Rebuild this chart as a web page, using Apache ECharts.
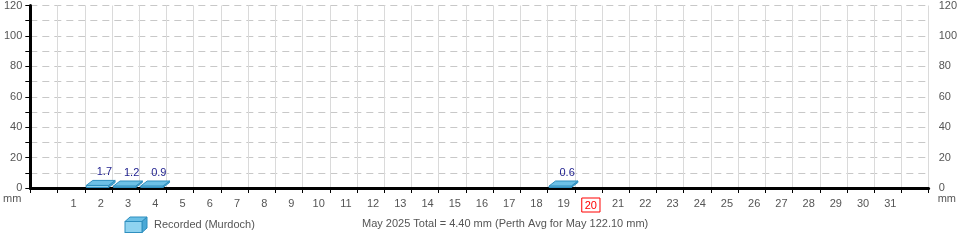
<!DOCTYPE html>
<html>
<head>
<meta charset="utf-8">
<script src="https://cdn.jsdelivr.net/npm/echarts@6/dist/echarts.min.js"></script>
<style>html,body{margin:0;padding:0;background:#fff;}#c{width:960px;height:240px;}</style>
</head>
<body>
<div id="c"></div>
<script>
// ---- data ----
var dayLabels = ['', '1','2','3','4','5','6','7','8','9','10','11','12','13','14','15','16','17','18','19','20','21','22','23','24','25','26','27','28','29','30','31', ''];
var rainDays = ['2', '3', '4', '19'];
var rainValues = [1.7, 1.2, 0.9, 0.6];
var highlightDay = '20';
var seriesName = 'Recorded (Murdoch)';
var footnote = 'May 2025 Total = 4.40 mm (Perth Avg for May 122.10 mm)';
var yUnit = 'mm';

var font = '"Liberation Sans", Arial, sans-serif';
var cubeSvg = '<svg xmlns="http://www.w3.org/2000/svg" width="24" height="17" viewBox="0 0 24 17">' +
  '<polygon points="1,5.5 6,1 23,1 18,5.5" fill="#6cc0e6" stroke="#2f8fbf" stroke-width="1"/>' +
  '<polygon points="18,5.5 23,1 23,12 18,16.5" fill="#4aa8d6" stroke="#2f8fbf" stroke-width="1"/>' +
  '<rect x="1" y="5.5" width="17" height="11" fill="#8fd3f0" stroke="#2f8fbf" stroke-width="1"/>' +
  '</svg>';
var cubeIcon = 'image://data:image/svg+xml;charset=utf-8,' + encodeURIComponent(cubeSvg);

var seriesData = rainDays.map(function (d, i) { return [d, rainValues[i]]; });

var chart = echarts.init(document.getElementById('c'), null, {renderer: 'canvas'});
chart.setOption({
  animation: false,
  backgroundColor: '#fff',
  textStyle: {fontFamily: font},
  grid: {left: 30, right: 30, top: 5, bottom: 52, containLabel: false},
  legend: {
    show: true,
    left: 119, top: 211,
    itemWidth: 24, itemHeight: 17, itemGap: 10,
    icon: cubeIcon,
    data: [{name: seriesName, icon: cubeIcon}],
    textStyle: {color: '#555', fontSize: 11, fontFamily: font, padding: [0,0,0,1]}
  },
  xAxis: {
    type: 'category',
    data: dayLabels,
    boundaryGap: true,
    axisLine: {show: true, lineStyle: {color: '#000', width: 3}},
    axisTick: {show: true, interval: 0, length: 5, lineStyle: {color: '#000', width: 1}},
    splitLine: {show: true, interval: 0, lineStyle: {color: '#dadada', width: 1}},
    axisLabel: {
      interval: 0, margin: 10, color: '#555', fontSize: 11, fontFamily: font,
      padding: [0, 0, 0, 5],
      formatter: function (v) { return v === highlightDay ? '{hl|' + v + '}' : v; },
      rich: {hl: {color: '#ff0000', fontSize: 11, fontFamily: font, borderColor: '#ff0000', borderWidth: 1, padding: [2, 3, 1, 3]}}
    }
  },
  yAxis: [{
    type: 'value', min: 0, max: 120, interval: 10, position: 'left',
    name: yUnit, nameLocation: 'start', nameGap: 4,
    nameTextStyle: {color: '#555', fontSize: 11, fontFamily: font, align: 'right', verticalAlign: 'top', padding: [0, 9, 0, 0]},
    axisLine: {show: true, lineStyle: {color: '#000', width: 3}},
    axisTick: {show: true, length: 5, lineStyle: {color: '#000', width: 1}},
    splitLine: {show: true, lineStyle: {color: '#c8c8c8', width: 1, type: [7, 5]}},
    axisLabel: {color: '#555', fontSize: 11, fontFamily: font, margin: 8,
      formatter: function (v) { return v % 20 === 0 ? String(v) : ''; }}
  }, {
    type: 'value', min: 0, max: 120, interval: 10, position: 'right',
    name: yUnit, nameLocation: 'start', nameGap: 4,
    nameTextStyle: {color: '#555', fontSize: 11, fontFamily: font, align: 'left', verticalAlign: 'top', padding: [0, 0, 0, 9]},
    axisLine: {show: false}, axisTick: {show: false}, splitLine: {show: false},
    axisLabel: {color: '#555', fontSize: 11, fontFamily: font, margin: 10,
      formatter: function (v) { return v % 20 === 0 ? String(v) : ''; }}
  }],
  graphic: [{
    type: 'text', left: 362, top: 218,
    style: {text: footnote, fill: '#555', fontSize: 11, fontFamily: font}
  }],
  series: [{
    name: seriesName,
    type: 'custom',
    coordinateSystem: 'cartesian2d',
    data: seriesData,
    renderItem: function (params, api) {
      var cat = api.value(0);
      var val = api.value(1);
      var base = api.coord([cat, 0]);
      var topPt = api.coord([cat, val]);
      var bw = api.size([1, 0])[0];
      var x0 = base[0] - bw / 2 + 1.5;
      var w = bw * 0.82;
      var y0 = base[1] - 0.5;
      var y1 = Math.min(topPt[1], y0 - 1.5);
      var dx = 6.5, dy = -5;
      var stroke = '#2f8fbf';
      return {
        type: 'group',
        children: [
          {type: 'polygon', shape: {points: [[x0 + w, y0], [x0 + w + dx, y0 + dy], [x0 + w + dx, y1 + dy], [x0 + w, y1]]},
            style: {fill: '#4aa8d6', stroke: stroke, lineWidth: 1}},
          {type: 'rect', shape: {x: x0, y: y1, width: w, height: y0 - y1},
            style: {fill: '#8fd3f0', stroke: stroke, lineWidth: 1}},
          {type: 'polygon', shape: {points: [[x0, y1], [x0 + dx, y1 + dy], [x0 + w + dx, y1 + dy], [x0 + w, y1]]},
            style: {fill: '#6cc0e6', stroke: stroke, lineWidth: 1}},
          {type: 'text', x: base[0] + 6, y: y1 + dy - 3,
            style: {text: String(val.toFixed(1)), fill: '#1c1c8c', fontSize: 11, fontFamily: font, align: 'center', verticalAlign: 'bottom'}}
        ]
      };
    }
  }]
});
</script>
</body>
</html>
